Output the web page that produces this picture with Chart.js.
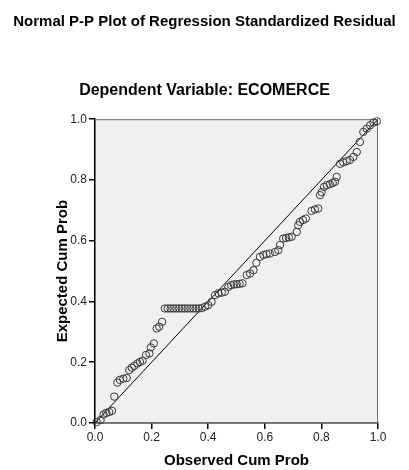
<!DOCTYPE html>
<html>
<head>
<meta charset="utf-8">
<script src="https://cdn.jsdelivr.net/npm/chart.js@4"></script>
<style>
  html, body { margin: 0; padding: 0; background: #fff; }
  #wrap { width: 409px; height: 470px; }
</style>
</head>
<body>
<div id="wrap"><canvas id="chart" width="409" height="470"></canvas></div>
<script>
// observed cumulative probability (x) and expected cumulative probability (y)
const observedCum = [
  0.006, 0.02, 0.03, 0.04, 0.05, 0.06, 0.068, 0.079, 0.088, 0.10,
  0.112, 0.121, 0.13, 0.139, 0.15, 0.159, 0.168, 0.18, 0.192, 0.197,
  0.208, 0.218, 0.227, 0.237, 0.247, 0.257, 0.267, 0.277, 0.287, 0.297,
  0.307, 0.317, 0.327, 0.337, 0.347, 0.357, 0.367, 0.377, 0.389, 0.40,
  0.412, 0.424, 0.436, 0.448, 0.459, 0.471, 0.481, 0.491, 0.501, 0.511,
  0.521, 0.536, 0.548, 0.56, 0.57, 0.583, 0.595, 0.606, 0.618, 0.636,
  0.648, 0.654, 0.665, 0.675, 0.685, 0.695, 0.713, 0.718, 0.724, 0.735,
  0.745, 0.765, 0.777, 0.789, 0.795, 0.801, 0.809, 0.819, 0.83, 0.84,
  0.848, 0.854, 0.866, 0.877, 0.889, 0.901, 0.913, 0.925, 0.936, 0.948,
  0.96, 0.972, 0.984, 0.996
];
const expectedCum = [
  0.003, 0.01, 0.028, 0.033, 0.036, 0.04, 0.087, 0.133, 0.142, 0.146,
  0.148, 0.174, 0.182, 0.188, 0.196, 0.201, 0.205, 0.224, 0.229, 0.249,
  0.262, 0.311, 0.317, 0.333, 0.377, 0.377, 0.377, 0.377, 0.377, 0.377,
  0.377, 0.377, 0.377, 0.377, 0.377, 0.377, 0.377, 0.378, 0.383, 0.388,
  0.399, 0.421, 0.427, 0.429, 0.432, 0.448, 0.454, 0.456, 0.457, 0.458,
  0.46, 0.487, 0.492, 0.503, 0.527, 0.547, 0.553, 0.556, 0.558, 0.563,
  0.569, 0.586, 0.607, 0.609, 0.611, 0.613, 0.629, 0.651, 0.662, 0.668,
  0.673, 0.698, 0.703, 0.706, 0.75, 0.76, 0.777, 0.783, 0.786, 0.79,
  0.794, 0.81, 0.853, 0.858, 0.862, 0.866, 0.876, 0.892, 0.925, 0.958,
  0.969, 0.98, 0.989, 0.993
];
// reference diagonal
const refLineX = [0, 1];
const refLineY = [0, 1];
const tickValues = [0, 0.2, 0.4, 0.6, 0.8, 1.0];

const points = observedCum.map((x, i) => ({ x: x, y: expectedCum[i] }));
const diag = refLineX.map((x, i) => ({ x: x, y: refLineY[i] }));

const FONT = "Arial, 'Liberation Sans', sans-serif";

// grey plot area with frame
const plotArea = {
  id: "plotArea",
  beforeDatasetsDraw(chart) {
    const { ctx, chartArea: a } = chart;
    ctx.save();
    ctx.fillStyle = "#f0f0f0";
    ctx.fillRect(a.left, a.top, a.right - a.left, a.bottom - a.top);
    ctx.strokeStyle = "#6e6e6e";
    ctx.lineWidth = 1;
    ctx.strokeRect(a.left + 0.5, a.top + 0.5, a.right - a.left - 1, a.bottom - a.top - 1);
    ctx.restore();
  }
};

const ctx = document.getElementById("chart").getContext("2d");
new Chart(ctx, {
  type: "scatter",
  data: {
    datasets: [
      {
        label: "Reference",
        data: diag,
        showLine: true,
        borderColor: "#000",
        borderWidth: 1,
        pointRadius: 0,
        order: 1,
      },
      {
        label: "Residual",
        data: points,
        pointRadius: 3.7,
        pointBorderWidth: 1,
        borderColor: "#3a3a3a",
        backgroundColor: "rgba(0,0,0,0)",
        clip: false,
        order: 0,
      },
    ],
  },
  options: {
    responsive: false,
    animation: false,
    layout: { padding: 0 },
    plugins: {
      legend: { display: false },
      tooltip: { enabled: false },
      title: {
        display: true,
        text: "Normal P-P Plot of Regression Standardized Residual",
        color: "#000",
        font: { family: FONT, size: 15, weight: "bold" },
        padding: { top: 13, bottom: 25 },
      },
      subtitle: {
        display: true,
        text: "Dependent Variable: ECOMERCE",
        color: "#000",
        font: { family: FONT, size: 16, weight: "bold" },
        padding: { top: 25, bottom: 19 },
      },
    },
    scales: {
      x: {
        type: "linear",
        min: 0,
        max: 1,
        afterBuildTicks: (s) => { s.ticks = tickValues.map((v) => ({ value: v })); },
        afterFit: (s) => { s.height = 47; },
        ticks: {
          callback: (v) => Number(v).toFixed(1),
          color: "#222",
          font: { family: FONT, size: 12 },
          padding: 1,
          maxRotation: 0,
        },
        grid: { display: true, drawOnChartArea: false, drawTicks: true, tickLength: 6, color: "#000", lineWidth: 1.5 },
        border: { display: true, color: "#000", width: 1.5 },
        title: {
          display: true,
          text: "Observed Cum Prob",
          color: "#000",
          font: { family: FONT, size: 15, weight: "bold" },
          padding: { top: 0, bottom: 0 },
        },
      },
      y: {
        type: "linear",
        min: 0,
        max: 1,
        afterBuildTicks: (s) => { s.ticks = tickValues.map((v) => ({ value: v })); },
        afterFit: (s) => { s.width = 95; },
        ticks: {
          callback: (v) => Number(v).toFixed(1),
          color: "#222",
          font: { family: FONT, size: 12 },
          padding: 2,
        },
        grid: { display: true, drawOnChartArea: false, drawTicks: true, tickLength: 6, color: "#000", lineWidth: 1.5 },
        border: { display: true, color: "#000", width: 1.5 },
        title: {
          display: true,
          text: "Expected Cum Prob",
          color: "#000",
          font: { family: FONT, size: 15, weight: "bold" },
          padding: { top: 54, bottom: 0 },
        },
      },
      // empty right-hand axis that only reserves the margin right of the plot
      yRight: {
        type: "linear",
        position: "right",
        min: 0,
        max: 1,
        afterFit: (s) => { s.width = 31; },
        ticks: { display: false },
        grid: { display: false },
        border: { display: false },
      },
    },
  },
  plugins: [plotArea],
});
</script>
</body>
</html>
